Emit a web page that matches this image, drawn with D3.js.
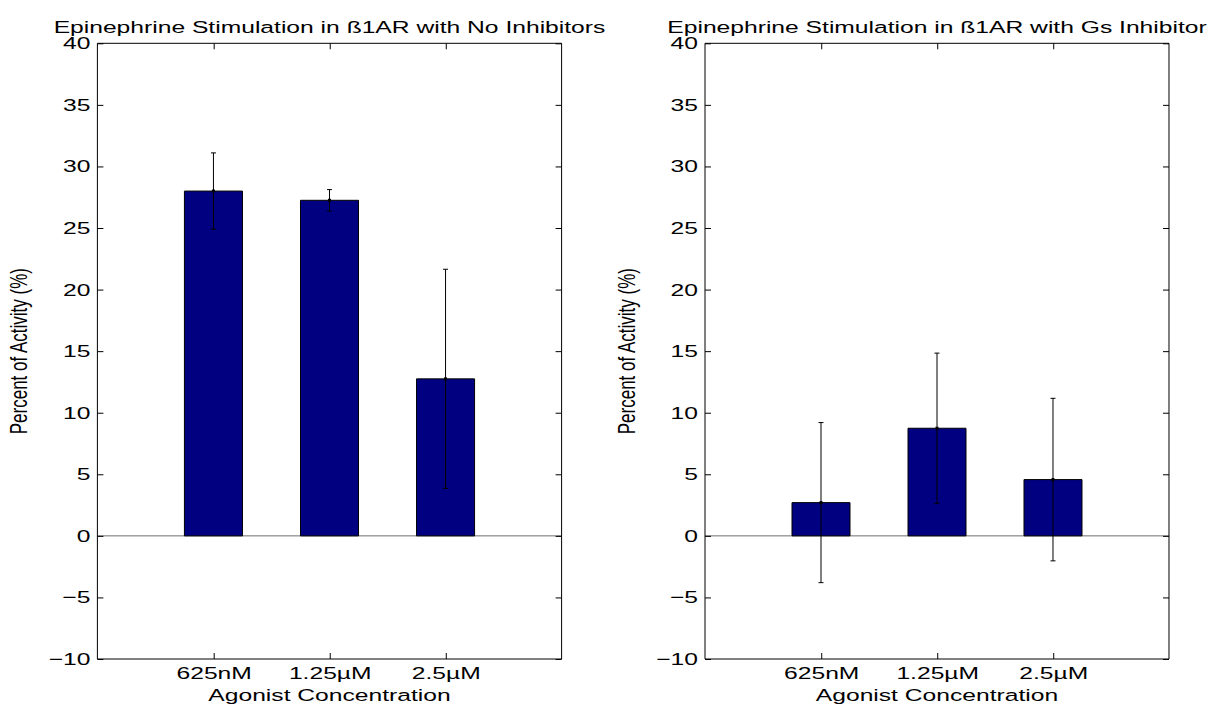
<!DOCTYPE html>
<html lang="en">
<head>
    <meta charset="UTF-8">
    <script src="https://d3js.org/d3.v7.min.js"></script>
    <title>Epinephrine Stimulation in b1AR</title>
    <style>
        body { margin: 0; background: #fff; }
        text { font-family: "Liberation Sans", Arial, Helvetica, sans-serif; fill: #000; }
        line, path, rect { vector-effect: non-scaling-stroke; }
    </style>
</head>
<body>
<div class="graph"></div>
<script>
    // data
    var categories = ["625nM", "1.25\u00b5M", "2.5\u00b5M"];
    var noInhibitors = [28.0, 27.25, 12.75];
    var noInhibitorsErr = [3.1, 0.87, 8.9];
    var gsInhibitor = [2.7, 8.74, 4.57];
    var gsInhibitorErr = [6.5, 6.1, 6.6];
    var yTicks = [-10, -5, 0, 5, 10, 15, 20, 25, 30, 35, 40];
    var titles = ["Epinephrine Stimulation in \u00df1AR with No Inhibitors",
                  "Epinephrine Stimulation in \u00df1AR with Gs Inhibitor"];

    var width = 1208, height = 709,
        sx = 1.45,            // the picture is stretched sideways
        fontSize = 17,
        plotTop = 43.3, plotBottom = 659;

    var panels = [
        { title: titles[0], values: noInhibitors, err: noInhibitorsErr, left: 97.4, right: 561.6 },
        { title: titles[1], values: gsInhibitor, err: gsInhibitorErr, left: 705, right: 1169 }
    ];

    var svg = d3.select(".graph")
        .append("svg")
        .attr("width", width)
        .attr("height", height);

    var root = svg.append("g").attr("transform", "scale(" + sx + ",1)");

    panels.forEach(function (p) {
        var x = d3.scaleLinear().domain([0, 4]).range([p.left / sx, p.right / sx]);
        var y = d3.scaleLinear().domain([-10, 40]).range([plotBottom, plotTop]);
        var g = root.append("g");
        var barW = x(0.5) - x(0);

        // zero line
        g.append("line")
            .attr("x1", x(0)).attr("x2", x(4))
            .attr("y1", y(0)).attr("y2", y(0))
            .attr("stroke", "#6e6e6e");

        g.selectAll(".bar")
            .data(p.values)
            .enter().append("rect")
            .attr("class", "bar")
            .attr("x", function (d, i) { return x(i + 1) - barW / 2; })
            .attr("width", barW)
            .attr("y", function (d) { return y(d); })
            .attr("height", function (d) { return y(0) - y(d); })
            .attr("fill", "#000080")
            .attr("stroke", "#000");

        // error bars
        var eb = g.selectAll(".err")
            .data(p.values)
            .enter().append("g")
            .attr("class", "err");
        eb.append("line")
            .attr("x1", function (d, i) { return x(i + 1); })
            .attr("x2", function (d, i) { return x(i + 1); })
            .attr("y1", function (d, i) { return y(d - p.err[i]); })
            .attr("y2", function (d, i) { return y(d + p.err[i]); })
            .attr("stroke", "#000");
        [-1, 1].forEach(function (sgn) {
            eb.append("line")
                .attr("x1", function (d, i) { return x(i + 1) - 2.5 / sx; })
                .attr("x2", function (d, i) { return x(i + 1) + 2.5 / sx; })
                .attr("y1", function (d, i) { return y(d + sgn * p.err[i]); })
                .attr("y2", function (d, i) { return y(d + sgn * p.err[i]); })
                .attr("stroke", "#000");
        });
        eb.append("rect")
            .attr("x", function (d, i) { return x(i + 1) - 1.5 / sx; })
            .attr("y", function (d) { return y(d) - 1.5; })
            .attr("width", 3 / sx)
            .attr("height", 3)
            .attr("fill", "#000");

        // axes, ticks pointing inwards
        var yAxis = g.append("g")
            .attr("transform", "translate(" + x(0) + ",0)")
            .call(d3.axisLeft(y).tickValues(yTicks).tickSizeInner(-6 / sx).tickSizeOuter(0).tickPadding(7 / sx));
        g.append("g")
            .attr("transform", "translate(" + x(4) + ",0)")
            .call(d3.axisRight(y).tickValues(yTicks).tickSizeInner(-6 / sx).tickSizeOuter(0).tickFormat(""));
        var xAxis = g.append("g")
            .attr("transform", "translate(0," + y(-10) + ")")
            .call(d3.axisBottom(x).tickValues([1, 2, 3]).tickSizeInner(-6).tickSizeOuter(0).tickPadding(8)
                .tickFormat(function (d) { return categories[d - 1]; }));
        g.append("g")
            .attr("transform", "translate(0," + y(40) + ")")
            .call(d3.axisTop(x).tickValues([1, 2, 3]).tickSizeInner(-6).tickSizeOuter(0).tickFormat(""));

        g.selectAll(".domain").remove();
        g.selectAll(".tick line").attr("stroke", "#000");
        [yAxis, xAxis].forEach(function (a) {
            a.attr("font-size", fontSize).attr("font-family", null);
        });

        g.append("rect")
            .attr("x", x(0)).attr("y", y(40))
            .attr("width", x(4) - x(0)).attr("height", y(-10) - y(40))
            .attr("fill", "none")
            .attr("stroke", "#000");

        // labels
        g.append("text")
            .attr("x", (x(0) + x(4)) / 2)
            .attr("y", 33)
            .attr("text-anchor", "middle")
            .attr("font-size", fontSize)
            .text(p.title);

        g.append("text")
            .attr("x", (x(0) + x(4)) / 2)
            .attr("y", 701)
            .attr("text-anchor", "middle")
            .attr("font-size", fontSize)
            .text("Agonist Concentration");

        g.append("text")
            .attr("transform", "translate(" + (x(0) - 70 / sx) + "," + (plotTop + plotBottom) / 2 + ") rotate(-90)")
            .attr("text-anchor", "middle")
            .attr("font-size", fontSize)
            .text("Percent of Activity (%)");
    });
</script>
</body>
</html>
